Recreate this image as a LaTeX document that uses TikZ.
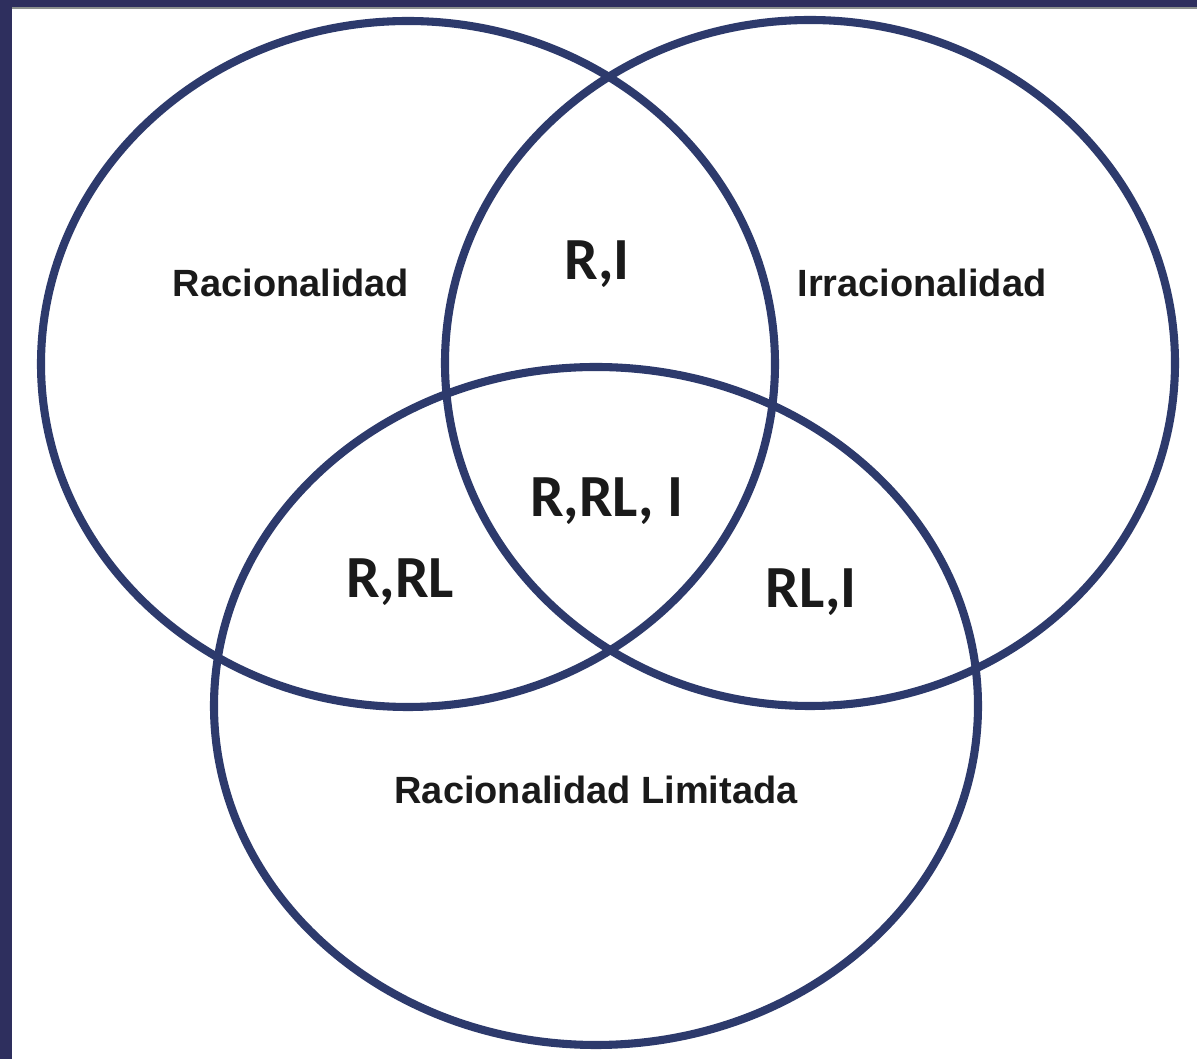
\documentclass[tikz,border=0pt]{standalone}
\usepackage{fontspec}
\setmainfont{Liberation Sans}
\newfontfamily\carlito{Carlito}
\usepackage{tikz}

\definecolor{bleucercle}{HTML}{2D3A6C}
\definecolor{bleucadre}{HTML}{2E2F5E}
\definecolor{griscadre}{HTML}{8C918E}
\definecolor{texte}{HTML}{1A1A1A}

\begin{document}
\begin{tikzpicture}[scale=1,
		cercle/.style={line width=2.3pt, bleucercle},
		petit/.style={text=texte, font=\fontsize{10.8}{12}\selectfont\bfseries, anchor=base},
		grand/.style={text=texte, font=\fontsize{17}{19}\selectfont\carlito\bfseries, anchor=base}]
			
			% Cadre de l'image
			\useasboundingbox (0,0) rectangle (11.97,10.59);
			\fill[white] (0,0) rectangle (11.97,10.59);
			\fill[griscadre] (0,10.50) rectangle (11.97,10.53);
			\fill[bleucadre] (0,10.52) rectangle (11.97,10.59);
			\fill[bleucadre] (0,0) rectangle (0.12,10.59);
			
			% Les trois cercles
			\draw[cercle] (4.08,6.95) ellipse (3.67 and 3.43);   % Racionalidad
			\draw[cercle] (8.10,6.96) ellipse (3.65 and 3.43);   % Irracionalidad
			\draw[cercle] (5.96,3.53) ellipse (3.82 and 3.39);   % Racionalidad Limitada
			
			% Noms des ensembles
			\node[petit] (rac) at (2.91,7.62) {Racionalidad};
			\node[petit] (irr) at (9.22,7.62) {Irracionalidad};
			\node[petit] (lim) at (5.96,2.55) {Racionalidad Limitada};
			
			% Intersections
			\node[grand] (ri) at (5.97,7.79) {R,I};
			\node[grand] (rrl) at (4.00,4.61) {R,RL};
			\node[grand] (rli) at (8.11,4.51) {RL,I};
			\node[grand] (tous) at (6.07,5.42) {R,RL, I};
			
		\end{tikzpicture}
\end{document}
